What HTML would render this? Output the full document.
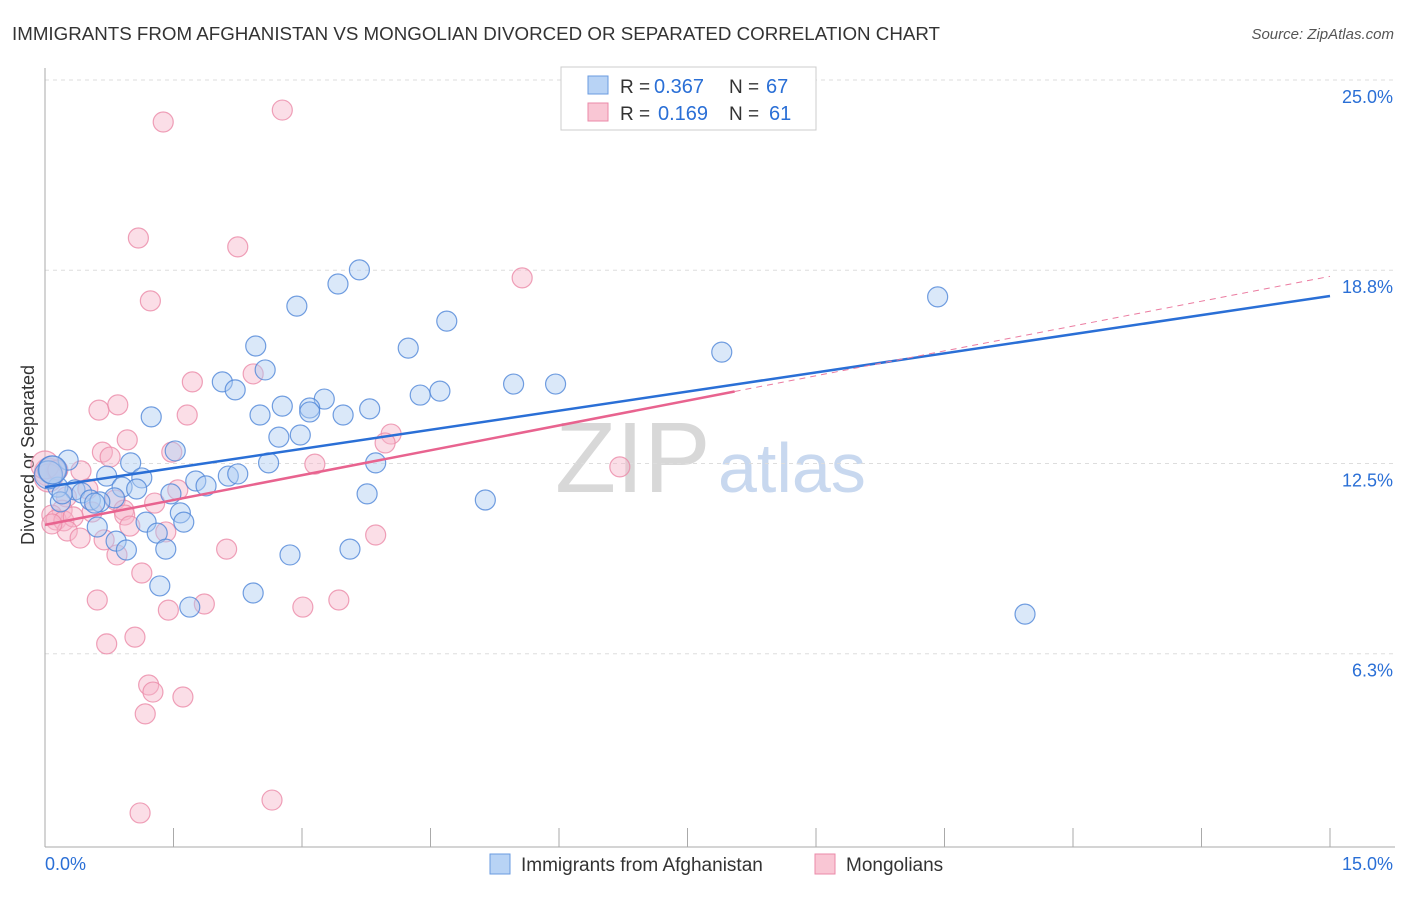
<!DOCTYPE html>
<html><head><meta charset="utf-8"><style>
body{margin:0;background:#fff;font-family:"Liberation Sans",sans-serif;}
svg text{font-family:"Liberation Sans",sans-serif;}
</style></head><body>
<svg id="chart" width="1406" height="892">
<text x="12" y="40" font-size="18" fill="#333" textLength="928" lengthAdjust="spacingAndGlyphs">IMMIGRANTS FROM AFGHANISTAN VS MONGOLIAN DIVORCED OR SEPARATED CORRELATION CHART</text>
<text x="1394" y="39" font-size="15" fill="#555" text-anchor="end" font-style="italic">Source: ZipAtlas.com</text>
<text x="555" y="492" font-size="100" fill="#d8d8d8" font-family="Liberation Serif">ZIP</text>
<text x="718" y="492" font-size="70" fill="#c8d8ef">atlas</text>
<text transform="translate(34,455) rotate(-90)" font-size="18" fill="#333" text-anchor="middle">Divorced or Separated</text>
<g id="grid"></g><g id="axes"></g><g id="pts"></g><g id="trend"></g>
<g>
<rect x="561" y="67" width="255" height="63" fill="#fff" stroke="#ccc"/>
<rect x="588" y="76" width="20" height="18" fill="#b8d3f5" stroke="#6a9be0"/>
<rect x="588" y="103" width="20" height="18" fill="#f9c6d4" stroke="#eb8aa8"/>
<text x="620" y="93" font-size="19" fill="#333">R =</text>
<text x="654" y="93" font-size="20" fill="#2a6fd6">0.367</text>
<text x="729" y="93" font-size="19" fill="#333">N =</text>
<text x="766" y="93" font-size="20" fill="#2a6fd6">67</text>
<text x="620" y="120" font-size="19" fill="#333">R =</text>
<text x="658" y="120" font-size="20" fill="#2a6fd6">0.169</text>
<text x="729" y="120" font-size="19" fill="#333">N =</text>
<text x="769" y="120" font-size="20" fill="#2a6fd6">61</text>
</g>
<g>
<rect x="490" y="854" width="20" height="20" fill="#b8d3f5" stroke="#6a9be0"/>
<text x="521" y="871" font-size="19" fill="#333">Immigrants from Afghanistan</text>
<rect x="815" y="854" width="20" height="20" fill="#f9c6d4" stroke="#eb8aa8"/>
<text x="846" y="871" font-size="19" fill="#333">Mongolians</text>
</g>
</svg>
<script>
const yTicks=[25,18.8,12.5,6.3];
const yTickLabels=["25.0%","18.8%","12.5%","6.3%"];
const xMin=0,xMax=15,yMin=0,yMax=25;
const blueX=[10.42,7.90,11.44,3.67,3.42,2.94,4.69,4.24,2.46,2.57,2.07,2.22,4.38,4.61,5.47,5.96,3.26,3.09,3.09,2.77,2.51,3.48,3.79,1.24,2.73,2.98,1.52,1.00,2.61,3.86,0.27,0.72,1.13,2.14,2.25,1.76,1.88,0.90,1.07,1.47,0.81,3.76,5.14,0.35,0.43,0.15,0.18,0.53,0.64,0.08,0.04,1.18,1.58,1.62,0.61,1.31,0.83,0.95,1.41,3.56,2.86,1.34,2.43,1.69,0.09,0.20,0.58];
const blueY=[17.93,16.13,7.59,18.81,18.35,17.63,17.14,16.26,16.33,15.55,15.16,14.90,14.73,14.86,15.09,15.09,14.60,14.31,14.18,14.37,14.08,14.08,14.28,14.02,13.36,13.43,12.91,12.52,12.52,12.52,12.61,12.09,12.03,12.09,12.16,11.93,11.77,11.73,11.67,11.51,11.38,11.51,11.31,11.64,11.54,11.73,11.25,11.31,11.25,12.29,12.13,10.59,10.89,10.59,10.43,10.23,9.97,9.68,9.71,9.71,9.52,8.51,8.28,7.82,12.29,11.51,11.21];
const pinkX=[2.77,1.38,1.09,2.25,5.57,1.23,1.72,2.43,0.63,0.85,1.66,0.96,4.04,3.97,1.48,0.67,0.76,3.15,6.71,0.42,0.13,0.04,0.50,1.55,0.25,0.82,1.28,0.20,0.55,0.92,0.08,0.13,0.22,0.33,0.93,0.26,0.41,0.99,1.41,0.69,0.08,3.86,2.12,0.84,1.13,0.61,1.86,1.44,3.01,3.43,0.72,1.05,1.21,1.26,1.61,1.17,2.65,1.11,0.04,0.0,0.15];
const pinkY=[24.02,23.63,19.85,19.56,18.55,17.80,15.16,15.42,14.24,14.41,14.08,13.27,13.46,13.17,12.87,12.87,12.71,12.48,12.39,12.26,12.29,12.22,11.67,11.64,11.41,11.31,11.21,10.98,10.92,10.98,10.82,10.66,10.63,10.76,10.82,10.30,10.07,10.46,10.27,10.01,10.53,10.17,9.71,9.52,8.93,8.05,7.92,7.72,7.82,8.05,6.62,6.84,5.28,5.05,4.89,4.34,1.53,1.11,12.03,12.45,12.29];
const blueTrend=[11.73,17.96];
const pinkTrend=[10.50,18.60];
const pinkSolidEnd=8.05;
const L=45,R=1330,T=80,B=847;
const sx=v=>L+(v-xMin)/(xMax-xMin)*(R-L);
const sy=v=>B-(v-yMin)/(yMax-yMin)*(B-T);
const NS="http://www.w3.org/2000/svg";
function mk(tag,attrs,parent){const e=document.createElementNS(NS,tag);for(const k in attrs)e.setAttribute(k,attrs[k]);document.getElementById(parent).appendChild(e);return e;}
yTicks.forEach((t,i)=>{
 const g=mk('line',{x1:L,x2:1395,y1:sy(t),y2:sy(t),stroke:'#ddd','stroke-dasharray':'4,4'},'grid');
 
 
 const tx=mk('text',{x:1393,y:sy(t)+23,'font-size':18,fill:'#2a6fd6','text-anchor':'end'},'grid');
 tx.textContent=yTickLabels[i];
 
 
});
const ax=mk('line',{x1:L,x2:1395,y1:B,y2:B,stroke:'#aaa'},'axes');


const ay=mk('line',{x1:L,x2:L,y1:68,y2:B,stroke:'#aaa'},'axes');


for(let i=0;i<=10;i++){
 const v=i*1.5;
 const tk=mk('line',{x1:sx(v),x2:sx(v),y1:828,y2:B,stroke:'#aaa'},'axes');
 
 
}
const x0=mk('text',{x:45,y:870,'font-size':18,fill:'#2a6fd6'},'axes');x0.textContent='0.0%';


const x1=mk('text',{x:1393,y:870,'font-size':18,fill:'#2a6fd6','text-anchor':'end'},'axes');x1.textContent='15.0%';


function dots(X,Y,fill,stroke,name){
 X.forEach((x,i)=>{
  const r=(x<0.1&&Y[i]>12)?14:10;
  const c=mk('circle',{cx:sx(x),cy:sy(Y[i]),r:r,fill:fill,'fill-opacity':0.45,stroke:stroke,'stroke-width':1.2,'stroke-opacity':0.8},'pts');
  
  
 });
}
dots(pinkX,pinkY,'#f7b6c9','#eb8aa8','mongolian-point');
dots(blueX,blueY,'#aecbf2','#4f86d8','afghanistan-point');
const bl=mk('line',{x1:sx(0),y1:sy(blueTrend[0]),x2:sx(15),y2:sy(blueTrend[1]),stroke:'#2a6fd6','stroke-width':2.5},'trend');


const slope=(pinkTrend[1]-pinkTrend[0])/15;
const pd=mk('line',{x1:sx(pinkSolidEnd),y1:sy(pinkTrend[0]+slope*pinkSolidEnd),x2:sx(15),y2:sy(pinkTrend[1]),stroke:'#eb7ba0','stroke-width':1,'stroke-dasharray':'6,5'},'trend');


const ps=mk('line',{x1:sx(0),y1:sy(pinkTrend[0]),x2:sx(pinkSolidEnd),y2:sy(pinkTrend[0]+slope*pinkSolidEnd),stroke:'#e8638f','stroke-width':2.5},'trend');


</script>
</body></html>
